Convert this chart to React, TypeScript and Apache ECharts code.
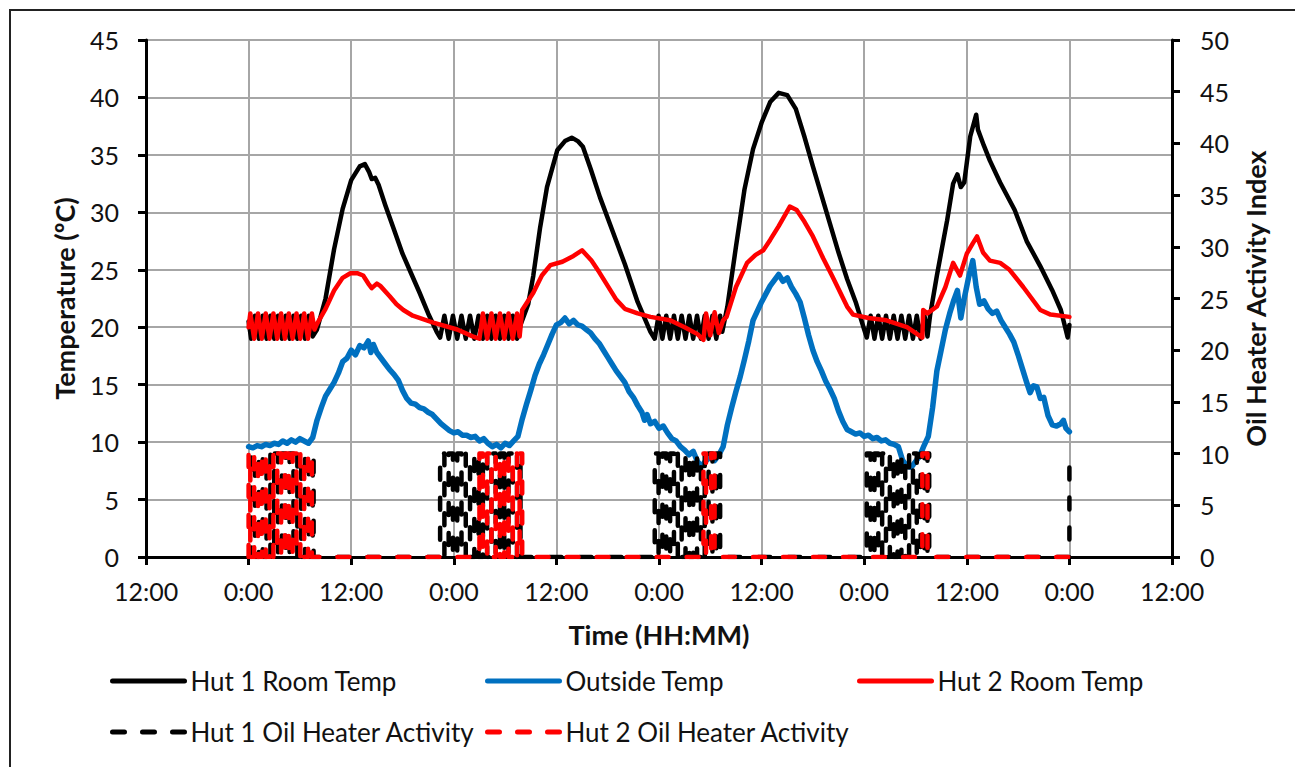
import React, { useEffect, useRef } from 'react';
import * as echarts from 'echarts';

// Hours since first midnight (x) and temperature in °C (y)
const hut1RoomTemp: number[][] = [
  [0, 20.5], [0.3, 19], [0.75, 21], [1.2, 19], [1.65, 21], [2.1, 19], [2.55, 21], [3.0, 19], [3.45, 21], [3.9, 19], [4.35, 21], [4.8, 19], [5.25, 21], [5.7, 19], [6.15, 21], [6.6, 19], [7.05, 21], [7.5, 19.2],
  [8, 19.8], [9, 22.5], [10, 26.8], [11, 30.3], [12, 32.8], [13, 34], [13.6, 34.2], [14.1, 33.5], [14.4, 32.9], [14.8, 33], [15.2, 32.4], [16, 30.6], [17, 28.5], [18, 26.4], [19, 24.7], [20, 23], [21, 21.2], [22, 19.6],
  [22.4, 19.1], [22.9, 21], [23.4, 19], [23.9, 21], [24.4, 19], [24.9, 21], [25.4, 19], [25.9, 21], [26.4, 19], [26.9, 21], [27.4, 19], [27.9, 21], [28.4, 19], [28.9, 21], [29.4, 19], [29.9, 21], [30.4, 19], [30.9, 21], [31.4, 19], [31.8, 20.2],
  [32.7, 22], [33.3, 24.5], [34.1, 28.7], [34.9, 32.2], [36.1, 35.4], [37, 36.2], [37.8, 36.5], [38.5, 36.2], [39.1, 35.7], [40, 33.8], [41.1, 31.3], [42.5, 28.5], [44, 25.5], [45.5, 22.2], [47, 19.6],
  [47.5, 19], [47.95, 21], [48.4, 19], [48.85, 21], [49.3, 19], [49.75, 21], [50.2, 19], [50.65, 21], [51.1, 19], [51.55, 21], [52.0, 19], [52.45, 21], [52.9, 19], [53.35, 21], [53.8, 19], [54.25, 21], [54.7, 19], [55.15, 21], [55.4, 19.6],
  [56, 21.8], [57, 27], [58, 32], [59, 35.5], [60, 37.8], [61, 39.6], [62, 40.4], [63, 40.2], [64, 39], [65, 36.6], [66, 34], [67, 31.5], [68, 29], [69, 26.5], [70, 24.2], [71, 22.2], [72, 19.8],
  [72.3, 19.1], [72.75, 21], [73.2, 19], [73.65, 21], [74.1, 19], [74.55, 21], [75.0, 19], [75.45, 21], [75.9, 19], [76.35, 21], [76.8, 19], [77.25, 21], [77.7, 19], [78.15, 21], [78.6, 19], [79.05, 21], [79.4, 19.2],
  [79.7, 21], [80.5, 24.5], [81.7, 29.3], [82.4, 32.5], [82.9, 33.3], [83.3, 32.2], [83.7, 32.6], [84.4, 36.6], [85.1, 38.5], [85.3, 37.2], [86, 35.8], [86.7, 34.5], [87.9, 32.6], [89.6, 30.2], [91, 27.5], [92.6, 25.3], [94, 23.2], [95, 21.5], [95.8, 19.1], [96, 20.2],
];

const outsideTemp: number[][] = [
  [0, 9.6], [0.5, 9.5], [1, 9.7], [1.5, 9.6], [2, 9.8], [2.5, 9.7], [3, 9.9], [3.5, 9.8], [4, 10.1], [4.5, 9.9], [5, 10.2], [5.5, 10], [6, 10.3], [6.5, 10.1], [7, 9.9], [7.5, 10.4],
  [8, 11.9], [8.5, 13], [9, 14], [9.5, 14.6], [10, 15.2], [10.5, 16], [11, 17], [11.5, 17.3], [12, 18], [12.5, 17.6], [13, 18.4], [13.5, 18.2], [14, 18.8], [14.3, 17.8], [14.6, 18.5], [15, 17.8],
  [15.5, 17.3], [16, 16.8], [16.5, 16.3], [17, 15.9], [17.5, 15.4], [18, 14.5], [18.5, 13.8], [19, 13.4], [19.5, 13.3], [20, 13], [20.5, 12.9], [21, 12.6], [21.5, 12.4], [22, 12], [22.5, 11.6],
  [23, 11.3], [23.5, 11], [24, 10.8], [24.5, 10.9], [25, 10.6], [25.5, 10.6], [26, 10.4], [26.5, 10.5], [27, 10.1], [27.5, 10.3], [28, 9.9], [28.5, 9.6], [29, 9.8], [29.5, 9.5], [30, 9.9],
  [30.5, 9.7], [31, 10.1], [31.5, 10.5], [32, 12], [32.5, 13.3], [33, 14.5], [33.5, 15.8], [34, 16.8], [34.5, 17.6], [35, 18.5], [35.5, 19.4], [36, 20.2], [36.5, 20.4], [37, 20.8], [37.5, 20.3],
  [38, 20.6], [38.5, 20.2], [39, 20.1], [39.5, 19.8], [40, 19.5], [40.5, 19], [41, 18.6], [41.5, 18], [42, 17.4], [42.5, 16.8], [43, 16.2], [43.5, 15.7], [44, 15.2], [44.5, 14.4], [45, 13.9],
  [45.5, 13.2], [46, 12.6], [46.3, 11.9], [46.6, 12.4], [47, 11.6], [47.5, 11.8], [48, 11.2], [48.5, 11.4], [49, 10.8], [49.5, 10.3], [50, 10.1], [50.5, 9.6], [51, 9.3], [51.5, 8.9], [52, 9.2],
  [52.5, 8.3], [53, 7.9], [53.5, 8.4], [54, 8.7], [54.5, 8.4], [55, 8.9], [55.5, 9.6], [56, 11.5], [56.5, 13], [57, 14.4], [57.5, 15.7], [58, 17.2], [58.5, 18.8], [59, 20.6], [59.5, 21.4],
  [60, 22.2], [60.5, 22.9], [61, 23.6], [61.5, 24.1], [62, 24.6], [62.5, 24], [63, 24.3], [63.5, 23.5], [64, 22.9], [64.5, 22.2], [65, 20.8], [65.5, 19.3], [66, 18], [66.5, 17], [67, 16.2],
  [67.5, 15.3], [68, 14.6], [68.5, 13.8], [69, 12.7], [69.5, 11.8], [70, 11.1], [70.5, 10.9], [71, 10.7], [71.5, 10.8], [72, 10.5], [72.5, 10.6], [73, 10.3], [73.5, 10.4], [74, 10.1], [74.5, 10.2],
  [75, 9.9], [75.5, 9.8], [76, 9.6], [76.5, 8.4], [77, 7.9], [77.5, 7.8], [78, 8.3], [78.5, 8.8], [79, 9.7], [79.5, 10.5], [80, 13], [80.5, 16.2], [81, 18], [81.5, 19.8], [82, 21.2], [82.5, 22.4],
  [82.9, 23.2], [83.3, 20.8], [83.7, 22.5], [84.2, 24.3], [84.7, 25.8], [85.1, 23.5], [85.5, 22], [86, 22.3], [86.5, 21.6], [87, 21.2], [87.5, 21.4], [88, 20.6], [88.5, 20], [89, 19.4], [89.5, 18.7],
  [90, 17.6], [90.5, 16.4], [91, 15.2], [91.4, 14.3], [91.8, 14.9], [92.2, 14.8], [92.6, 13.8], [93, 13.9], [93.5, 12.3], [94, 11.5], [94.5, 11.4], [95, 11.6], [95.3, 11.9], [95.6, 11.2], [96, 10.9],
];

const hut2RoomTemp: number[][] = [
  [0, 20], [0.2, 21.2], [0.65, 19], [1.1, 21.2], [1.55, 19], [2.0, 21.2], [2.45, 19], [2.9, 21.2], [3.35, 19], [3.8, 21.2], [4.25, 19], [4.7, 21.2], [5.15, 19], [5.6, 21.2], [6.05, 19], [6.5, 21.2], [6.95, 19], [7.4, 21.2], [7.7, 19.8],
  [8, 20.3], [9, 21.6], [10, 23.2], [11, 24.3], [11.9, 24.7], [12.7, 24.7], [13.4, 24.5], [14, 23.8], [14.4, 23.4], [15, 23.8], [15.4, 23.6], [16.5, 22.7], [17.3, 22], [18.1, 21.5], [19.2, 21], [21.6, 20.4], [24.4, 19.8], [26.2, 19.2],
  [27.0, 19], [27.4, 21.2], [27.9, 19], [28.4, 21.2], [28.9, 19], [29.4, 21.2], [29.9, 19], [30.4, 21.2], [30.9, 19], [31.4, 21.2], [31.7, 19.2], [32.0, 21.5],
  [33.3, 23], [34.3, 24.5], [35.3, 25.4], [36.7, 25.7], [38, 26.2], [39, 26.7], [40.1, 25.8], [41, 24.8], [42, 23.6], [43, 22.4], [44, 21.6], [45.5, 21.2], [47, 20.9], [49.3, 20.6], [51, 20], [52.5, 19.4],
  [53.2, 18.9], [53.5, 21.2], [54.0, 19.3], [54.5, 21.3], [55.0, 19.5], [55.5, 20.6],
  [55.9, 20.9], [57, 23.5], [58.3, 25.6], [59.3, 26.3], [60.2, 26.7], [61, 27.6], [62, 28.8], [63.3, 30.5], [64.1, 30.2], [65, 29.2], [66, 27.9], [67.2, 26], [68.3, 24.4], [70, 21.8], [70.7, 21.1], [72.5, 20.8], [74.6, 20.6], [77, 20], [78.8, 19.1],
  [78.9, 21.5], [79.4, 21.2], [80.5, 21.8], [81.5, 23.5], [82.4, 25.6], [83.2, 24.5], [84, 26.4], [84.7, 27.3], [85.2, 27.9], [85.9, 26.5], [86.7, 25.8], [87.9, 25.6], [89, 25], [90.6, 23.5], [92.6, 21.5], [93.8, 21.1], [96, 20.9],
];

// Heater switch-on / switch-off times (hours), activity index 10 while on
const hut1HeaterOn: number[][] = [
  [0.3, 0.75], [1.2, 1.65], [2.1, 2.55], [3.0, 3.45], [3.9, 4.35], [4.8, 5.25], [5.7, 6.15], [6.6, 7.05], [7.5, 7.6],
  [22.4, 22.9], [23.4, 23.9], [24.4, 24.9], [25.4, 25.9], [26.4, 26.9], [27.4, 27.9], [28.4, 28.9], [29.4, 29.9], [30.4, 30.9], [31.4, 31.8],
  [47.5, 47.95], [48.4, 48.85], [49.3, 49.75], [50.2, 50.65], [51.1, 51.55], [52.0, 52.45], [52.9, 53.35], [53.8, 54.25], [54.7, 55.15],
  [72.3, 72.75], [73.2, 73.65], [74.1, 74.55], [75.0, 75.45], [75.9, 76.35], [76.8, 77.25], [77.7, 78.15], [78.6, 79.05], [79.4, 79.6],
];
const hut1HeaterEnd: number[][] = [[96, 0], [96, 8.9]];

const hut2HeaterOn: number[][] = [
  [0, 0.2], [0.65, 1.1], [1.55, 2.0], [2.45, 2.9], [3.35, 3.8], [4.25, 4.7], [5.15, 5.6], [6.05, 6.5], [6.95, 7.4],
  [27.0, 27.4], [27.9, 28.4], [28.9, 29.4], [29.9, 30.4], [30.9, 31.4], [31.7, 32.0],
  [53.2, 53.5], [54.1, 54.5],
  [78.8, 79.4],
];
const hut2HeaterEnd: number[][] = [[96, 0]];
const heaterOnLevel = 10;

const xTicks = { min: -12, max: 108, interval: 12 };
const leftTicks = { min: 0, max: 45, interval: 5 };
const rightTicks = { min: 0, max: 50, interval: 5 };

function buildHeater(on: number[][], end: number[][]): number[][] {
  const pts: number[][] = [[0, 0]];
  on.forEach(([s, e]) => {
    pts.push([s, 0], [s, heaterOnLevel], [e, heaterOnLevel], [e, 0]);
  });
  end.forEach((p) => pts.push(p));
  return pts;
}

const FONT = 'Lato';
const TXT = '#111111';

export default function App() {
  const ref = useRef<HTMLDivElement>(null);
  useEffect(() => {
    if (!ref.current) return;
    const chart = echarts.init(ref.current, undefined, { renderer: 'svg' });
    const axisLine = { show: true, onZero: false, lineStyle: { color: '#000', width: 3 } };
    const axisTick = { show: true, inside: false, length: 8, lineStyle: { color: '#000', width: 3 } };
    const label = { color: TXT, fontSize: 25, fontFamily: FONT };
    const nameStyle = { color: TXT, fontSize: 27, fontWeight: 'bold' as const, fontFamily: FONT };
    const solid = (color: string, w: number) => ({ color, width: w, type: 'solid' as const, cap: 'round' as const, join: 'round' as const });
    const dashed = (color: string) => ({ color, width: 4.5, type: [12, 18], cap: 'round' as const, join: 'round' as const });
    const legendBase = {
      orient: 'horizontal' as const,
      padding: 0,
      itemWidth: 72,
      itemHeight: 14,
      textStyle: { color: TXT, fontSize: 26, fontFamily: FONT, padding: [0, 0, 0, 1] },
      lineStyle: { width: 5 },
      itemStyle: { opacity: 0, color: 'transparent', borderWidth: 0 },
      selectedMode: false,
    };
    chart.setOption({
      animation: false,
      backgroundColor: '#ffffff',
      textStyle: { fontFamily: FONT },
      grid: { left: 146, right: 123, top: 40, bottom: 210, containLabel: false },
      xAxis: {
        type: 'value',
        min: xTicks.min,
        max: xTicks.max,
        interval: xTicks.interval,
        name: 'Time (HH:MM)',
        nameLocation: 'middle',
        nameGap: 64,
        nameTextStyle: nameStyle,
        axisLine,
        axisTick,
        axisLabel: {
          ...label,
          margin: 21,
          formatter: (v: number) => ((((v % 24) + 24) % 24) === 0 ? '0:00' : '12:00'),
        },
        splitLine: { show: true, lineStyle: { color: '#a6a6a6', width: 2 } },
      },
      yAxis: [
        {
          type: 'value',
          position: 'left',
          min: leftTicks.min,
          max: leftTicks.max,
          interval: leftTicks.interval,
          name: 'Temperature (ºC)',
          nameLocation: 'middle',
          nameRotate: 90,
          nameGap: 68,
          nameTextStyle: nameStyle,
          axisLine,
          axisTick,
          axisLabel: { ...label, margin: 27 },
          splitLine: { show: true, lineStyle: { color: '#a6a6a6', width: 2 } },
        },
        {
          type: 'value',
          position: 'right',
          min: rightTicks.min,
          max: rightTicks.max,
          interval: rightTicks.interval,
          name: 'Oil Heater Activity Index',
          nameLocation: 'middle',
          nameRotate: 90,
          nameGap: 70,
          nameTextStyle: nameStyle,
          axisLine,
          axisTick,
          axisLabel: { ...label, margin: 28 },
          splitLine: { show: false },
        },
      ],
      legend: [
        { ...legendBase, data: ['Hut 1 Room Temp'], left: 110, top: 668 },
        { ...legendBase, data: ['Outside Temp'], left: 485, top: 668 },
        { ...legendBase, data: ['Hut 2 Room Temp'], left: 857, top: 668 },
        { ...legendBase, data: ['Hut 1 Oil Heater Activity'], left: 110, top: 719 },
        { ...legendBase, data: ['Hut 2 Oil Heater Activity'], left: 485, top: 719 },
      ],
      graphic: [
        {
          type: 'rect',
          shape: { x: 10, y: 10, width: 1300, height: 800 },
          style: { fill: 'none', stroke: '#222', lineWidth: 2 },
          silent: true,
          z: -1,
        },
      ],
      series: [
        { name: 'Hut 1 Room Temp', type: 'line', yAxisIndex: 0, data: hut1RoomTemp, showSymbol: false, symbol: 'none', color: '#000000', lineStyle: solid('#000000', 4.5) },
        { name: 'Outside Temp', type: 'line', yAxisIndex: 0, data: outsideTemp, showSymbol: false, symbol: 'none', color: '#0070C0', lineStyle: solid('#0070C0', 5.5) },
        { name: 'Hut 2 Room Temp', type: 'line', yAxisIndex: 0, data: hut2RoomTemp, showSymbol: false, symbol: 'none', color: '#FF0000', lineStyle: solid('#FF0000', 4.5) },
        { name: 'Hut 1 Oil Heater Activity', type: 'line', yAxisIndex: 1, data: buildHeater(hut1HeaterOn, hut1HeaterEnd), showSymbol: false, symbol: 'none', color: '#000000', lineStyle: dashed('#000000') },
        { name: 'Hut 2 Oil Heater Activity', type: 'line', yAxisIndex: 1, data: buildHeater(hut2HeaterOn, hut2HeaterEnd), showSymbol: false, symbol: 'none', color: '#FF0000', lineStyle: dashed('#FF0000') },
      ],
    });
    return () => chart.dispose();
  }, []);
  return <div ref={ref} style={{ position: 'fixed', left: 0, top: 0, width: 1295, height: 767, background: '#fff' }} />;
}
